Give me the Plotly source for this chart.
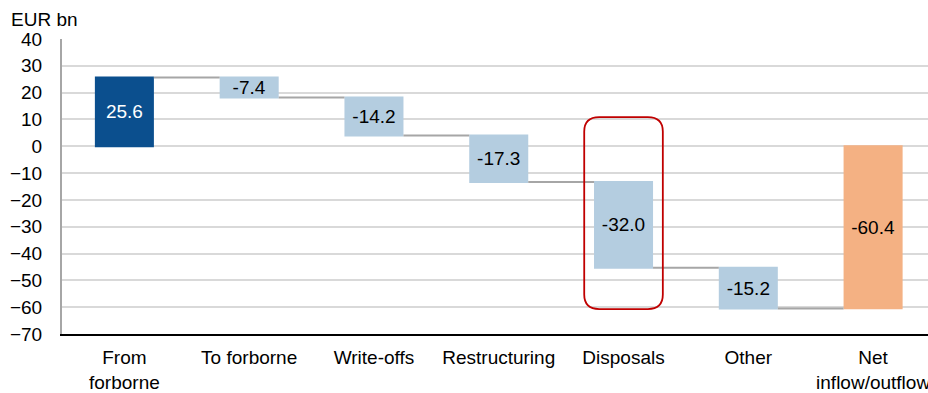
import plotly.graph_objects as go

# Flows of forborne exposures, EUR bn
categories = ["From<br>forborne", "To forborne", "Write-offs", "Restructuring",
              "Disposals", "Other", "Net<br>inflow/outflow"]
values = [25.6, -7.4, -14.2, -17.3, -32.0, -15.2, -60.4]
measures = ["relative", "relative", "relative", "relative", "relative", "relative", "absolute"]
label_colors = ["#FFFFFF", "#000000", "#000000", "#000000", "#000000", "#000000", "#000000"]

y_ticks = list(range(-70, 41, 10))
y_unit = "EUR bn"

# Highlight frame around the disposals bar (category index, half-width, y top / bottom)
highlight_idx = 4
highlight_half_w = 0.315
highlight_top = 10.9
highlight_bottom = -60.7

FONT = "Liberation Sans, Arial, sans-serif"
FS = 19

fig = go.Figure()
fig.add_trace(go.Waterfall(
    x=list(range(len(categories))),
    y=values,
    measure=measures,
    text=[f"{v:.1f}" for v in values],
    textposition="inside",
    insidetextanchor="middle",
    textfont=dict(family=FONT, size=FS, color=label_colors),
    increasing=dict(marker=dict(color="#0B4F8E")),
    decreasing=dict(marker=dict(color="#B4CDE0")),
    totals=dict(marker=dict(color="#F4B183")),
    connector=dict(line=dict(color="#A6A6A6", width=2), mode="between"),
    width=0.473,
    hoverinfo="skip",
    cliponaxis=False,
))

# Rounded rectangle path in data units
x0 = highlight_idx - highlight_half_w
x1 = highlight_idx + highlight_half_w
y0, y1 = highlight_bottom, highlight_top
rx, ry = 0.12, 5.4
path = (f"M {x0+rx},{y1} L {x1-rx},{y1} Q {x1},{y1} {x1},{y1-ry} "
        f"L {x1},{y0+ry} Q {x1},{y0} {x1-rx},{y0} "
        f"L {x0+rx},{y0} Q {x0},{y0} {x0},{y0+ry} "
        f"L {x0},{y1-ry} Q {x0},{y1} {x0+rx},{y1} Z")
fig.add_shape(type="path", path=path, xref="x", yref="y",
              line=dict(color="#C00000", width=1.8), fillcolor="rgba(0,0,0,0)")

fig.add_annotation(text=y_unit, xref="paper", yref="paper", x=0, y=1,
                   xanchor="left", yanchor="bottom", xshift=-53, yshift=7,
                   showarrow=False, font=dict(family=FONT, size=FS, color="#000000"))

fig.update_layout(
    width=928, height=393,
    margin=dict(l=62, r=0, t=39, b=59),
    paper_bgcolor="#FFFFFF", plot_bgcolor="#FFFFFF",
    showlegend=False,
    font=dict(family=FONT, size=FS, color="#000000"),
    uniformtext=dict(minsize=FS, mode="show"),
)
fig.update_xaxes(
    tickmode="array", tickvals=list(range(len(categories))), ticktext=categories,
    range=[-0.5, 6.44], showgrid=False, zeroline=False, automargin=False,
    showline=True, linecolor="#000000", linewidth=2,
    ticks="", ticklabelstandoff=5, ticklabeloverflow="allow",
    tickfont=dict(family=FONT, size=FS, color="#000000"),
)
fig.update_yaxes(
    range=[-70, 40], tickmode="array", tickvals=y_ticks, automargin=False,
    showgrid=True, gridcolor="#D9D9D9", gridwidth=1.5, zeroline=False,
    showline=True, linecolor="#A6A6A6", linewidth=2,
    ticks="", ticklabelstandoff=14, tickfont=dict(family=FONT, size=FS, color="#000000"),
)

fig.write_html("out.html")
